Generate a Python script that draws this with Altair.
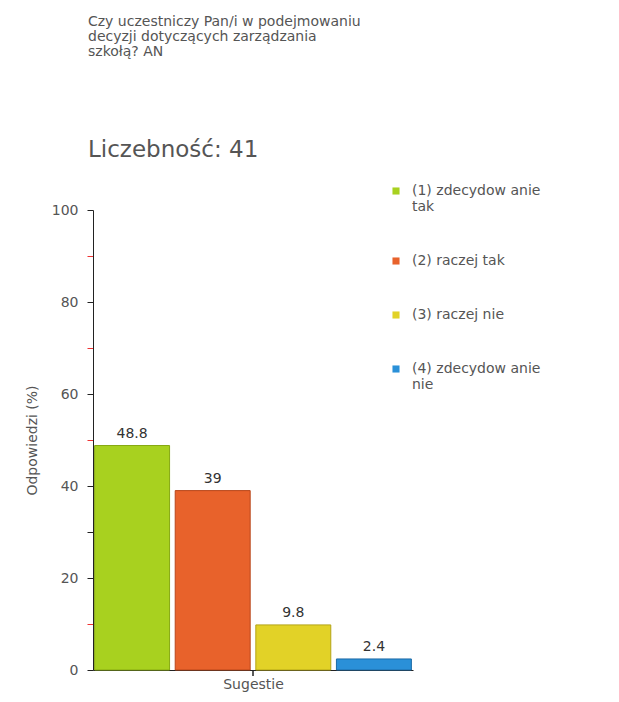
import altair as alt
import pandas as pd

categories = ["(1) zdecydowanie tak", "(2) raczej tak", "(3) raczej nie", "(4) zdecydowanie nie"]
legend_labels = ["(1) zdecydow anie|tak", "(2) raczej tak", "(3) raczej nie", "(4) zdecydow anie|nie"]
values = [48.8, 39, 9.8, 2.4]
value_text = ["48.8", "39", "9.8", "2.4"]
colors = ["#a8d11f", "#e8622b", "#e2d227", "#2a90d8"]
strokes = ["#86a812", "#b8461a", "#b3a417", "#1c6aa6"]

df = pd.DataFrame({"cat": categories, "val": values, "txt": value_text})

label_map = " : ".join(
    [f"datum.label == '{c}' ? split('{l}', '|')" for c, l in zip(categories, legend_labels)]
) + " : datum.label"

font = "DejaVu Sans"

x = alt.X("cat:N", sort=categories,
          scale=alt.Scale(paddingInner=0.07, paddingOuter=0.02),
          axis=alt.Axis(title="Sugestie", labels=False, ticks=False, domainColor="#222",
                        titleFont=font, titleFontSize=14, titleFontWeight="normal",
                        titleColor="#555", titlePadding=7))

bars = alt.Chart(df).mark_bar(strokeWidth=1).encode(
    x=x,
    y=alt.Y("val:Q", scale=alt.Scale(domain=[0, 100]),
            axis=alt.Axis(title="Odpowiedzi (%)", values=list(range(0, 101, 10)),
                          labelExpr="datum.value % 20 == 0 ? datum.label : ''",
                          grid=False, domainColor="#222", tickSize=6, labelPadding=9,
                          tickColor={"condition": {"test": "datum.value % 20 != 0 && datum.value != 30", "value": "#e33"}, "value": "#222"},
                          labelFont=font, labelFontSize=14, labelColor="#555",
                          titleFont=font, titleFontSize=14, titleFontWeight="normal",
                          titleColor="#555", titlePadding=12)),
    color=alt.Color("cat:N", sort=categories,
                    scale=alt.Scale(domain=categories, range=colors),
                    legend=alt.Legend(title=None, orient="none", legendX=296, legendY=-26,
                                      symbolType="square", symbolSize=50, symbolStrokeWidth=0,
                                      labelFont=font, labelFontSize=14, labelColor="#555",
                                      labelExpr=label_map, rowPadding=40, labelOffset=9,
                                      labelLimit=220)),
    stroke=alt.Stroke("cat:N", sort=categories,
                      scale=alt.Scale(domain=categories, range=strokes), legend=None),
)

labels = alt.Chart(df).mark_text(dy=-12, font=font, fontSize=14, color="#333").encode(
    x=alt.X("cat:N", sort=categories),
    y="val:Q",
    text="txt:N",
)

center_tick = alt.Chart(pd.DataFrame({"v": [0]})).mark_rule(color="#222", strokeWidth=1.5).encode(
    x=alt.value(160), y=alt.value(460), y2=alt.value(466)
)

chart = alt.layer(bars, labels, center_tick).properties(
    width=320, height=460,
    padding={"left": 17, "top": 7, "right": 5, "bottom": 5},
    background="white",
    title=alt.TitleParams(
        text=["Czy uczestniczy Pan/i w podejmowaniu", "decyzji dotyczących zarządzania", "szkołą? AN"],
        subtitle="Liczebność: 41",
        anchor="start", frame="group", font=font, fontSize=14, fontWeight="normal",
        color="#555", lineHeight=15, subtitleFont=font, subtitleFontSize=23,
        subtitleColor="#555", subtitlePadding=80, offset=22, dx=-5,
    ),
).configure_view(strokeWidth=0, stroke=None)

chart.save("out.html", embed_options={"renderer": "svg", "actions": False})
